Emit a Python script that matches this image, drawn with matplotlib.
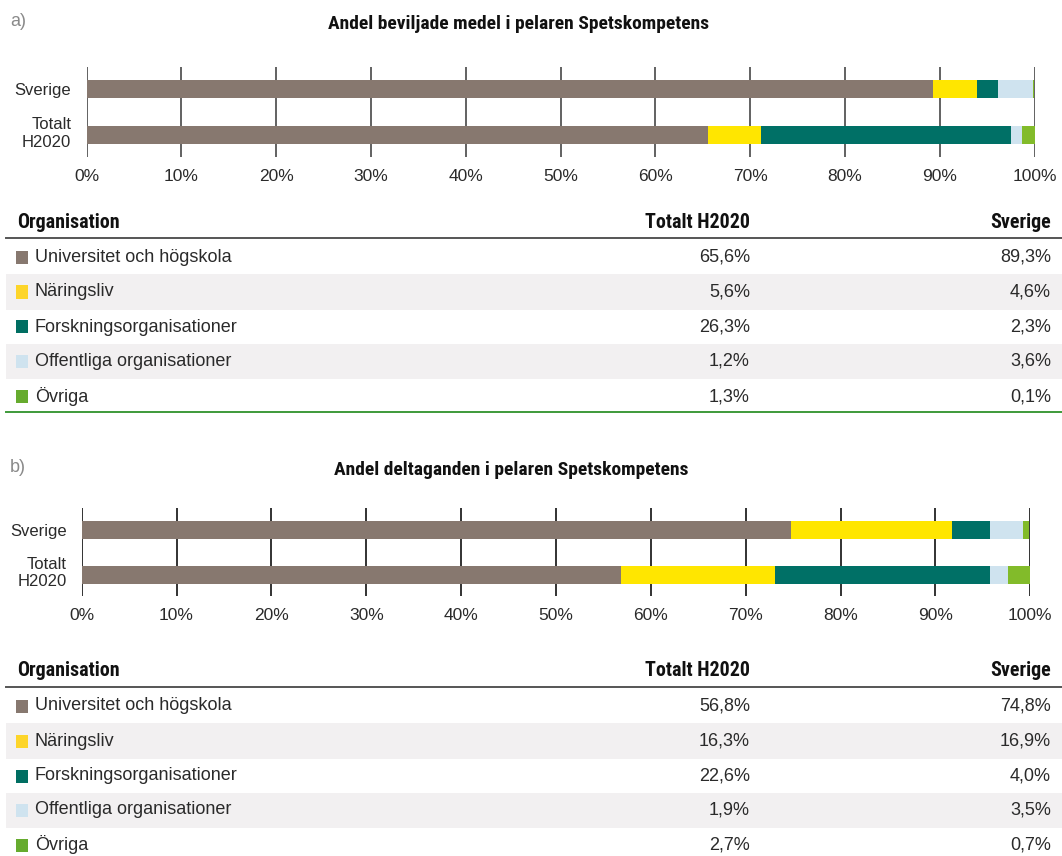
import matplotlib
matplotlib.use("Agg")
import matplotlib.pyplot as plt
from matplotlib.patches import Rectangle
from matplotlib.lines import Line2D
from matplotlib import font_manager

# ---------------- data ----------------
categories = ["Universitet och högskola", "Näringsliv", "Forskningsorganisationer",
              "Offentliga organisationer", "Övriga"]
bar_labels = ["Sverige", "Totalt\nH2020"]

medel_totalt = [65.6, 5.6, 26.3, 1.2, 1.3]
medel_sverige = [89.3, 4.6, 2.3, 3.6, 0.1]
delt_totalt = [56.8, 16.3, 22.6, 1.9, 2.7]
delt_sverige = [74.8, 16.9, 4.0, 3.5, 0.7]

title_a = "Andel beviljade medel i pelaren Spetskompetens"
title_b = "Andel deltaganden i pelaren Spetskompetens"
col_headers = ["Organisation", "Totalt H2020", "Sverige"]
xticks = [0, 10, 20, 30, 40, 50, 60, 70, 80, 90, 100]

bar_colors = ["#87786F", "#FFE600", "#007066", "#CFE3EF", "#82BB2A"]
legend_colors = ["#87786F", "#FDD52A", "#006E62", "#CFE3EF", "#66AB2E"]

# ---------------- style ----------------
W, H = 1062, 856
fig = plt.figure(figsize=(W / 100, H / 100), dpi=100)
REG = ["Liberation Sans", "DejaVu Sans"]
names = {f.name for f in font_manager.fontManager.ttflist}
cond = [n for n in ["Liberation Sans Narrow", "Roboto Condensed", "Open Sans Condensed"]
        if n in names]
BOLD = cond + ["DejaVu Sans"]
BOLD_KW = dict(family=BOLD, weight="bold", fontstretch="condensed")
HDR_SIZE = 14.4 if cond else 12
TITLE_SIZE = 14.0 if cond else 11.5
TXT = "#2a2a2a"


def fx(px):
    return px / W


def fy(py):
    return 1 - py / H


def fmt(v):
    return f"{v:.1f}".replace(".", ",") + "%"


def bar_chart(left, right, top, bottom, tot, sve, gcol):
    ax = fig.add_axes([fx(left), fy(bottom), fx(right) - fx(left), fy(top) - fy(bottom)])
    ys = [1, 0]  # Sverige on top, Totalt below
    series = [sve, tot]
    for y, vals in zip(ys, series):
        ax.barh([y] * len(vals), vals, left=[sum(vals[:i]) for i in range(len(vals))],
                color=bar_colors, height=0.4, zorder=3, linewidth=0)
    ax.set_xlim(0, 100)
    ax.set_ylim(-0.467, 1.489)
    ax.set_xticks(xticks)
    ax.set_xticklabels([f"{t}%" for t in xticks], family=REG, fontsize=12.5, color=TXT)
    ax.set_yticks([1, 0.1])
    ax.set_yticklabels(bar_labels, family=REG, fontsize=12, color=TXT,
                       linespacing=1.2)
    ax.tick_params(length=0, pad=9, axis="x")
    ax.tick_params(length=0, pad=11, axis="y")
    for x in xticks:
        ax.axvline(x, color=gcol, lw=1.3, zorder=1)
    for s in ax.spines.values():
        s.set_visible(False)
    ax.set_facecolor("none")
    return ax


def table(header_y, line_y, row_ys, tot, sve, bottom_line_y=None):
    fig.text(fx(17), fy(header_y), col_headers[0], fontsize=HDR_SIZE, ha="left",
             va="center", color="#111111", **BOLD_KW)
    fig.text(fx(750), fy(header_y), col_headers[1], fontsize=HDR_SIZE, ha="right",
             va="center", color="#111111", **BOLD_KW)
    fig.text(fx(1051), fy(header_y), col_headers[2], fontsize=HDR_SIZE, ha="right",
             va="center", color="#111111", **BOLD_KW)
    fig.add_artist(Line2D([fx(6), fx(1062)], [fy(line_y), fy(line_y)],
                          color="#555555", lw=1.4, transform=fig.transFigure))
    step = row_ys[1] - row_ys[0]
    for i, (cat, yc) in enumerate(zip(categories, row_ys)):
        if i % 2 == 1:
            fig.add_artist(Rectangle((fx(6), fy(yc + step / 2)), fx(1062) - fx(6),
                                     fy(yc - step / 2) - fy(yc + step / 2),
                                     facecolor="#F2F0F1", edgecolor="none",
                                     transform=fig.transFigure, zorder=0))
        fig.add_artist(Rectangle((fx(16), fy(yc + 6.5)), fx(12), fy(yc - 6.5) - fy(yc + 6.5),
                                 facecolor=legend_colors[i], edgecolor="none",
                                 transform=fig.transFigure, zorder=2))
        fig.text(fx(35), fy(yc), cat, family=REG, fontsize=13, ha="left", va="center",
                 color=TXT)
        fig.text(fx(750), fy(yc), fmt(tot[i]), family=REG, fontsize=13, ha="right",
                 va="center", color=TXT)
        fig.text(fx(1051), fy(yc), fmt(sve[i]), family=REG, fontsize=13, ha="right",
                 va="center", color=TXT)
    if bottom_line_y is not None:
        fig.add_artist(Line2D([fx(6), fx(1062)], [fy(bottom_line_y), fy(bottom_line_y)],
                              color="#3E9A3A", lw=1.4, transform=fig.transFigure))


# ---------------- panel a ----------------
fig.text(fx(10), fy(22), "a)", family=REG, fontsize=13, color="#8a8a8a", ha="left", va="center")
fig.text(fx(519), fy(24), title_a, fontsize=TITLE_SIZE, ha="center", va="center",
         color="#111111", **BOLD_KW)
bar_chart(86.5, 1034.5, 66.7, 156.7, medel_totalt, medel_sverige, "#555555")
table(222.7, 238.3, [257, 292, 327, 361.5, 396.5], medel_totalt, medel_sverige,
      bottom_line_y=412.3)

# ---------------- panel b ----------------
fig.text(fx(10), fy(468), "b)", family=REG, fontsize=13, color="#8a8a8a", ha="left", va="center")
fig.text(fx(511), fy(470), title_b, fontsize=TITLE_SIZE, ha="center", va="center",
         color="#111111", **BOLD_KW)
bar_chart(81.7, 1030.3, 508, 596, delt_totalt, delt_sverige, "#222222")
table(671, 687.3, [706, 741, 776, 810, 845], delt_totalt, delt_sverige)

fig.savefig("out.png", dpi=100, facecolor="white")
